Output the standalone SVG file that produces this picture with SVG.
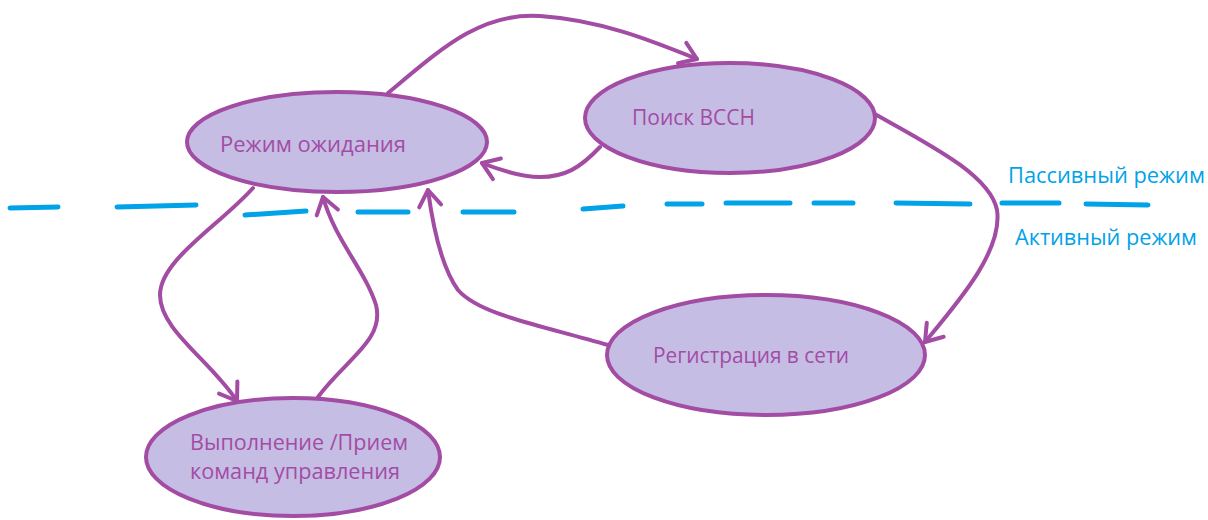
<svg xmlns="http://www.w3.org/2000/svg" width="1208" height="520" viewBox="0 0 1208 520">
<style>
.node ellipse{fill:#c6bde4;stroke:#a24ca4;stroke-width:4}
.node text{fill:#a24ca4;font-family:"Open Sans","Noto Sans",sans-serif;font-size:21px}
.edge{fill:none;stroke:#a24ca4;stroke-width:4;stroke-linecap:round;stroke-linejoin:round}
.dash{fill:none;stroke:#00a2e8;stroke-width:5;stroke-linecap:round}
.lbl{fill:#00a2e8;font-family:"Open Sans","Noto Sans",sans-serif;font-size:21px}
</style>
<defs>
<marker id="arr" markerUnits="userSpaceOnUse" markerWidth="40" markerHeight="40" refX="20" refY="20" orient="auto" viewBox="0 0 40 40">
<path d="M4,9 L20,20 L4,31" fill="none" stroke="#a24ca4" stroke-width="4" stroke-linecap="round" stroke-linejoin="round"/>
</marker>
</defs>
<rect width="1208" height="520" fill="#ffffff"/>
<g id="divider">
<path class="dash" d="M10,208 L58,207 M117,207 L196,205 M245,215 L306,211 M358,212 L408,212 M463,212 L514,212 M583,209 L623,206 M667,204 L702,204 M726,203 L790,203 M814,203 L853,203 M896,203 L970,204 M1002,203 L1059,203 M1086,204 L1148,205"/>
<text class="lbl" x="1008" y="183" textLength="197" lengthAdjust="spacingAndGlyphs">Пассивный режим</text>
<text class="lbl" x="1015" y="245" textLength="182" lengthAdjust="spacingAndGlyphs">Активный режим</text>
</g>
<g id="connectors">
<path class="edge" marker-end="url(#arr)" d="M388,93 C440,50 480,12 540,16 C600,20 650,40 697,59"/>
<path class="edge" marker-end="url(#arr)" d="M600,147 C580,168 565,177 540,177 C520,177 500,170 482,163"/>
<path class="edge" marker-end="url(#arr)" d="M873,113 C930,145 990,175 997,210 C1003,250 960,300 925,342"/>
<path class="edge" marker-end="url(#arr)" d="M608,345 C540,325 480,315 458,290 C440,265 432,220 428,190"/>
<path class="edge" marker-end="url(#arr)" d="M253,188 C220,225 160,260 160,295 C160,330 210,360 237,401"/>
<path class="edge" marker-end="url(#arr)" d="M318,397 C345,360 385,340 376,305 C365,270 335,240 323,197"/>
</g>
<g id="n-standby" class="node">
<ellipse cx="337" cy="142" rx="150" ry="50"/>
<text x="220" y="152" textLength="186" lengthAdjust="spacingAndGlyphs">Режим ожидания</text>
</g>
<g id="n-search" class="node">
<ellipse cx="730" cy="118" rx="145" ry="55"/>
<text x="632" y="125" textLength="123" lengthAdjust="spacingAndGlyphs">Поиск ВССН</text>
</g>
<g id="n-register" class="node">
<ellipse cx="766" cy="355" rx="159" ry="60"/>
<text x="653" y="363" textLength="196" lengthAdjust="spacingAndGlyphs">Регистрация в сети</text>
</g>
<g id="n-exec" class="node">
<ellipse cx="293" cy="457" rx="147" ry="59"/>
<text x="190" y="450" textLength="218" lengthAdjust="spacingAndGlyphs">Выполнение /Прием</text>
<text x="190" y="479" textLength="210" lengthAdjust="spacingAndGlyphs">команд управления</text>
</g>
</svg>
